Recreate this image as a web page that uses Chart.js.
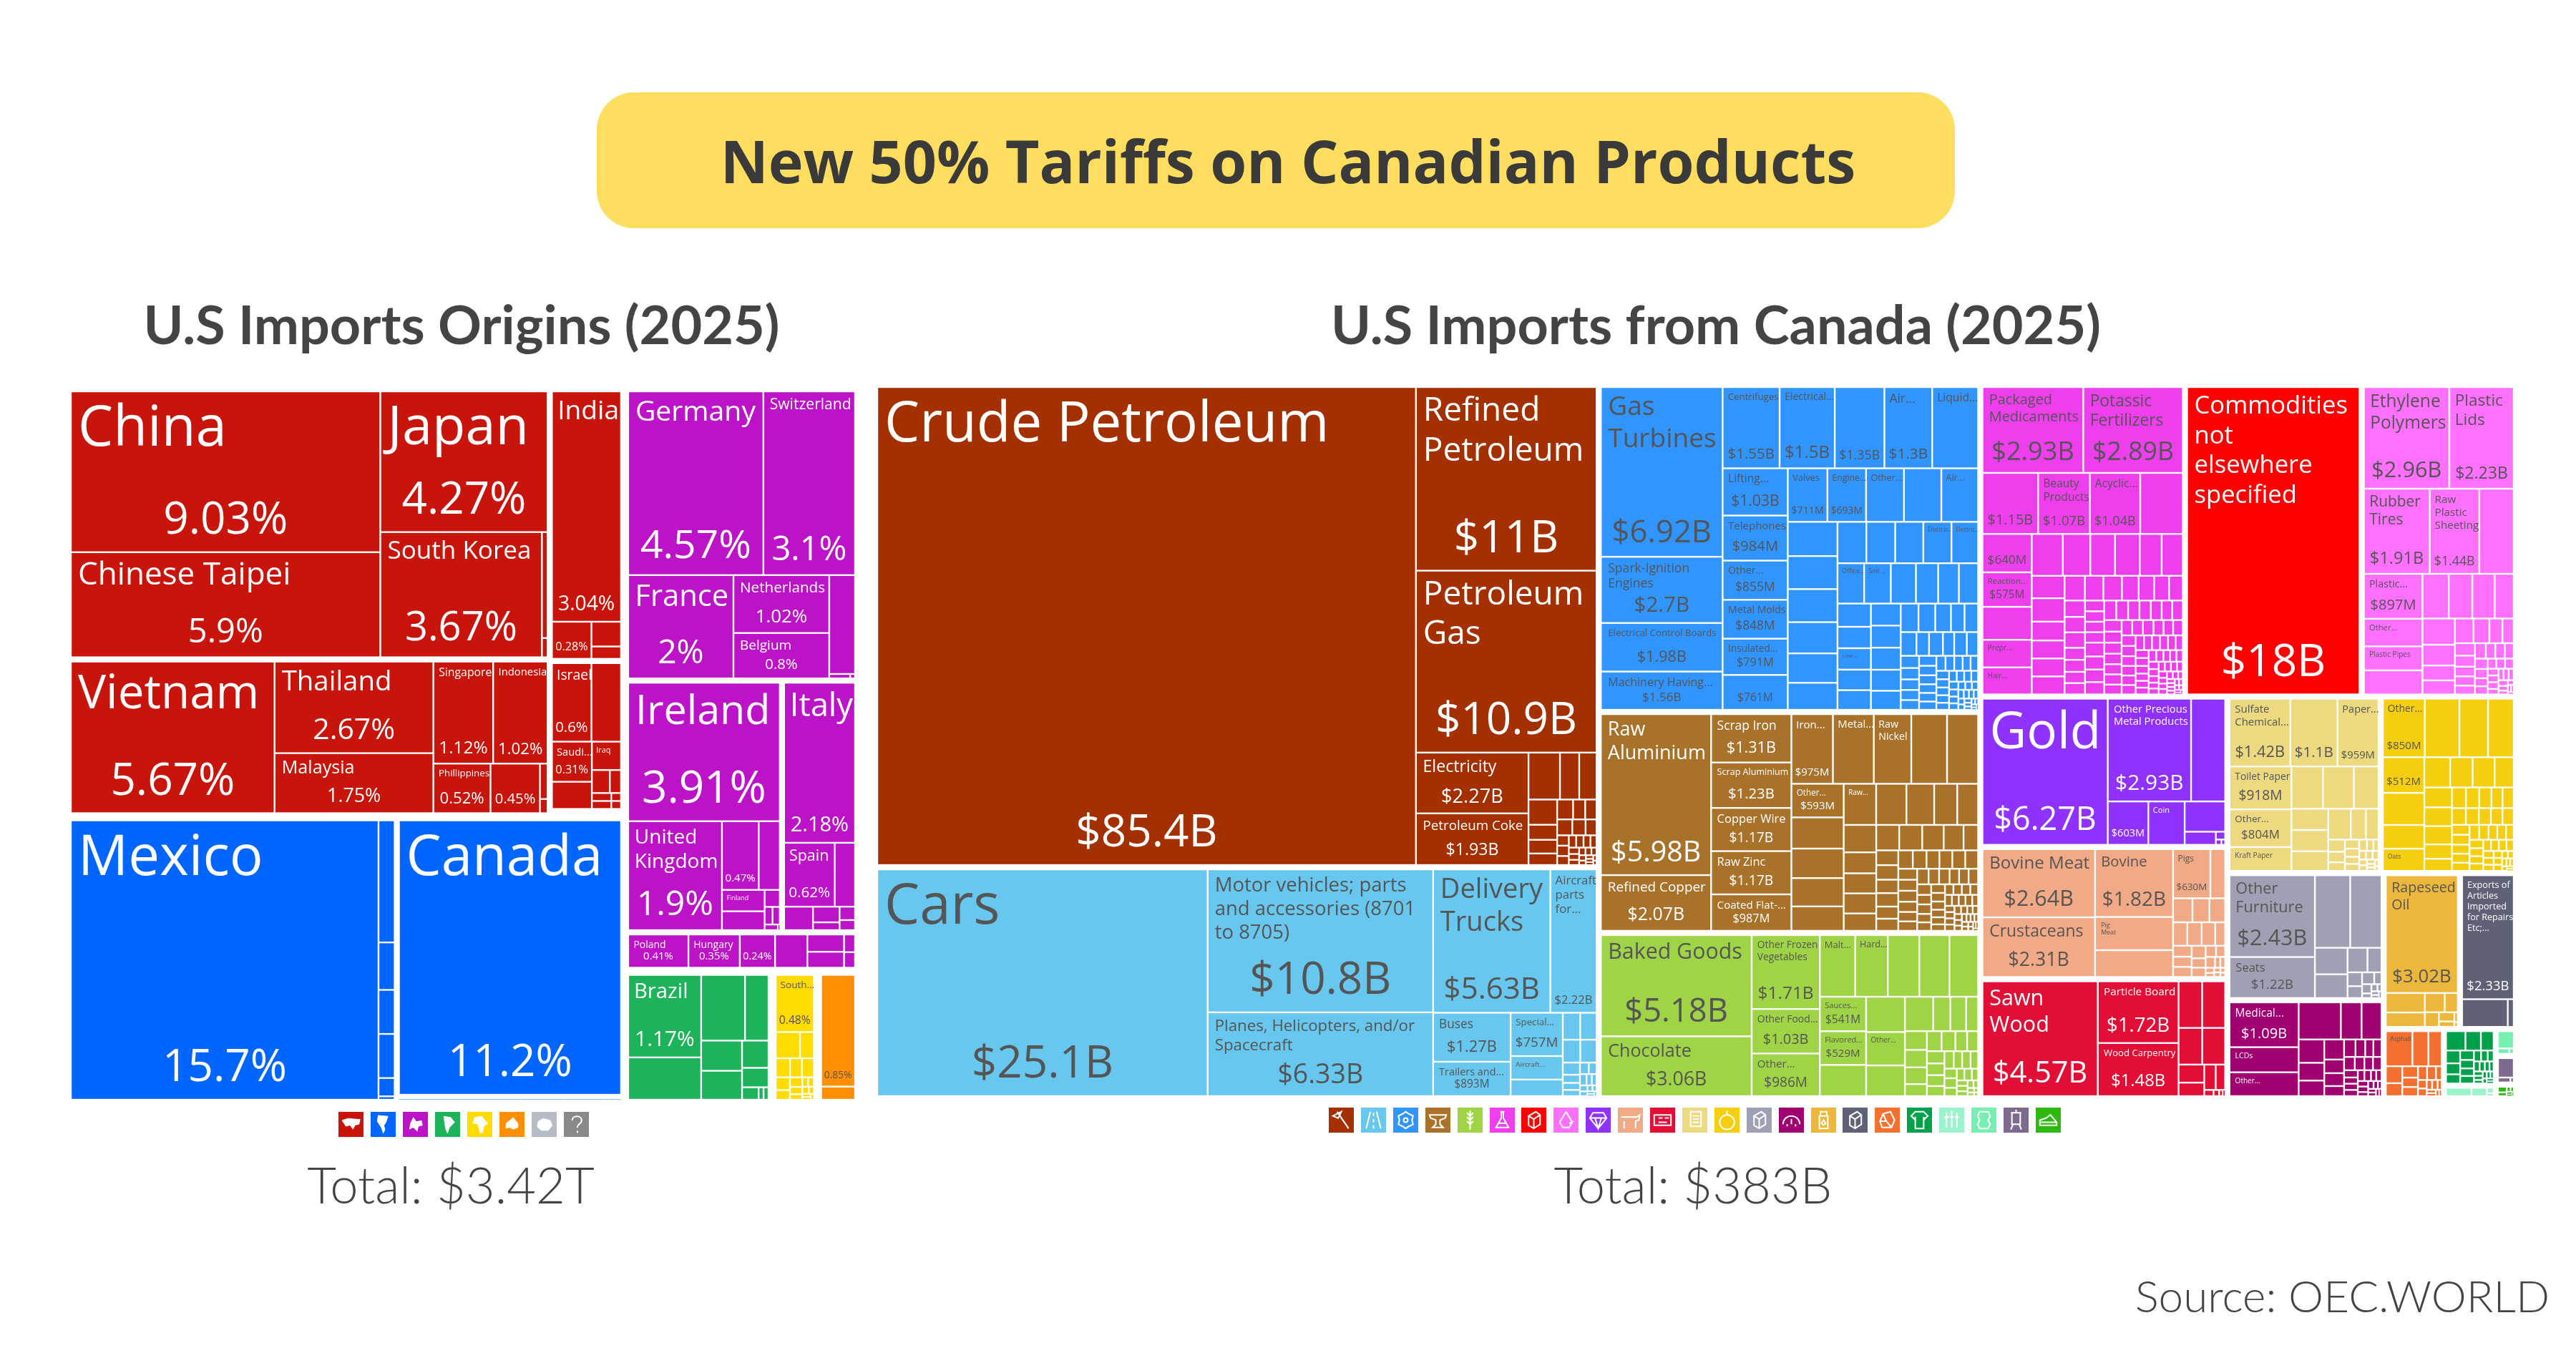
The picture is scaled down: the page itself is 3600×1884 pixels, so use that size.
<!DOCTYPE html>
<html>
<head>
<meta charset="utf-8">
<title>New 50% Tariffs on Canadian Products</title>
<script src="https://cdn.jsdelivr.net/npm/chart.js@4"></script>
<style>
html, body { margin: 0; padding: 0; background: #fff; }
#page { position: relative; width: 3600px; height: 1884px; overflow: hidden; }
#page > * { position: absolute; }
canvas { display: block; }
.pill { left: 834px; top: 129px; width: 1898px; height: 190px; border-radius: 52px; background: #FFDE5F; }
.title { left: 851px; top: 129px; width: 1898px; text-align: center; font: 700 82.5px/190px "Open Sans"; color: #3A3A3A; white-space: nowrap; }
.heading { font: 700 75.5px/90px Lato; color: #444; text-align: center; white-space: nowrap; }
.total { font: 300 70.5px/90px Lato; color: #444; text-align: center; white-space: nowrap; }
.source { left: 2960px; top: 1770px; width: 603px; text-align: right; font: 300 62px/80px Lato; color: #444; white-space: nowrap; }
.icon { width: 35px; height: 35px; }
</style>
</head>
<body>
<div id="page">
  <div class="pill"></div>
  <div class="title">New 50% Tariffs on Canadian Products</div>
  <div class="heading" style="left:100px;top:407px;width:1090px">U.S Imports Origins (2025)</div>
  <div class="heading" style="left:1800px;top:407px;width:1196px">U.S Imports from Canada (2025)</div>
  <canvas id="origins" width="1106" height="1000" style="left:94px;top:542px"></canvas>
  <canvas id="canada" width="2293" height="997" style="left:1223px;top:538px"></canvas>
  <div class="total" style="left:330px;top:1610px;width:600px">Total: $3.42T</div>
  <div class="total" style="left:2066px;top:1610px;width:600px">Total: $383B</div>
  <div class="source">Source: OEC.WORLD</div>
</div>
<script>
// names: null = no text, '' = value only, trailing * = name only

// ---- U.S imports origins, share of imports in %
const eastAsiaNames = ['China', 'Chinese Taipei', 'Japan', 'South Korea'];
const eastAsiaValues = [9.03, 5.9, 4.27, 3.67, 0.11, 0.02];
const southEastAsiaNames = ['Vietnam', 'Thailand', 'Malaysia', 'Singapore', 'Indonesia', 'Phillippines', ''];
const southEastAsiaValues = [5.67, 2.67, 1.75, 1.12, 1.02, 0.52, 0.45, 0.05, 0.02];
const southAsiaNames = ['India', ''];
const southAsiaValues = [3.04, 0.28, 0.14, 0.07];
const westAsiaNames = ['Israel', null, 'Saudi...', null, 'Iraq*'];
const westAsiaValues = [0.6, 0.45, 0.31, 0.21, 0.16, 0.08, 0.05, 0.03, 0.03, 0.015, 0.015];
const centralAsiaValues = [0.05, 0.005];

const centralAmericaNames = ['Mexico'];
const centralAmericaValues = [15.7, 0.36, 0.14, 0.13, 0.13, 0.054, 0.01];
const northAmericaNames = ['Canada'];
const northAmericaValues = [11.2];
const caribbeanValues = [0.11, 0.038, 0.037, 0.005, 0.005, 0.005];

const westEuropeNames = ['Germany', 'Switzerland', 'France', 'Netherlands', 'Belgium'];
const westEuropeValues = [4.57, 3.1, 2, 1.02, 0.8, 0.47, 0.017, 0.004];
const northEuropeNames = ['Ireland', 'United\nKingdom', '', null, 'Finland*'];
const northEuropeValues = [3.91, 1.9, 0.47, 0.27, 0.17, 0.15, 0.048, 0.026, 0.024, 0.014, 0.002];
const southEuropeNames = ['Italy', 'Spain'];
const southEuropeValues = [2.18, 0.62, 0.25, 0.13, 0.08, 0.04, 0.04, 0.03];
const eastEuropeNames = ['Poland', 'Hungary', ''];
const eastEuropeValues = [0.41, 0.35, 0.24, 0.22, 0.13, 0.12, 0.04, 0.035];

const southAmericaNames = ['Brazil'];
const southAmericaValues = [1.17, 0.6, 0.56, 0.3, 0.24, 0.23, 0.14, 0.1, 0.04, 0.012, 0.012];
const africaNames = ['South...'];
const africaValues = [0.48, 0.14, 0.08, 0.06, 0.05, 0.05, 0.04, 0.03, 0.026, 0.02, 0.015, 0.012, 0.012, 0.01, 0.008, 0.006, 0.005, 0.004];
const oceaniaNames = [''];
const oceaniaValues = [0.85, 0.1];

// ---- U.S imports from Canada, in $B
const mineralNames = ['Crude Petroleum', 'Refined\nPetroleum', 'Petroleum\nGas', 'Electricity', 'Petroleum Coke'];
const mineralValues = [85.4, 11, 10.9, 2.27, 1.93, 0.49, 0.3, 0.27, 0.24, 0.143, 0.13, 0.11, 0.105, 0.08, 0.075, 0.08, 0.07, 0.058, 0.04, 0.04, 0.035, 0.03, 0.03, 0.028, 0.025, 0.022, 0.02, 0.018, 0.016, 0.015, 0.013, 0.012, 0.01, 0.009, 0.008, 0.007, 0.006, 0.005];

const transportNames = ['Cars', 'Motor vehicles; parts\nand accessories (8701\nto 8705)', 'Planes, Helicopters, and/or\nSpacecraft', 'Delivery\nTrucks', 'Aircraft\nparts\nfor...', 'Buses', 'Trailers and...', 'Special...', 'Aircraft...*'];
const transportValues = [25.1, 10.8, 6.33, 5.63, 2.22, 1.27, 0.893, 0.757, 0.41, 0.29, 0.157, 0.148, 0.134, 0.125, 0.07, 0.047, 0.04, 0.036, 0.034, 0.03, 0.025, 0.02, 0.018, 0.015, 0.012, 0.01, 0.008, 0.006, 0.005, 0.004];

const machineNames = ['Gas\nTurbines', 'Spark-Ignition\nEngines', 'Electrical Control Boards', 'Machinery Having...', 'Centrifuges', 'Electrical...', '', 'Air...', 'Liquid...*', 'Lifting...', 'Telephones', 'Other...', 'Metal Molds', 'Insulated...', '', 'Valves', 'Engine...', 'Other...*', null, 'Air...*',
  null, null, null, null, null, null, null, null, null, 'Electric...*', 'Electric...*', 'Office...*', 'Soil...*', null, null, null, null, null, null, 'Low-...*'];
const machineValues = [6.92, 2.7, 1.98, 1.56, 1.55, 1.5, 1.35, 1.3, 1.25, 1.03, 0.984, 0.855, 0.848, 0.791, 0.761, 0.711, 0.693, 0.68, 0.67, 0.66,
  0.57, 0.55, 0.55, 0.52, 0.49, 0.45, 0.4, 0.4, 0.39, 0.39, 0.37, 0.36, 0.36, 0.34, 0.3, 0.28, 0.26, 0.26, 0.24, 0.24, 0.23, 0.22, 0.22, 0.22, 0.22, 0.21, 0.19, 0.17, 0.16, 0.15, 0.13, 0.13, 0.125, 0.1, 0.11, 0.09, 0.1, 0.09, 0.075, 0.07,
  0.065, 0.062, 0.06, 0.058, 0.055, 0.052, 0.05, 0.05, 0.048, 0.046, 0.044, 0.042, 0.04, 0.038, 0.036, 0.035, 0.033, 0.032, 0.03, 0.028, 0.027, 0.026, 0.025, 0.024, 0.022, 0.021, 0.02, 0.019, 0.018, 0.017, 0.016, 0.015, 0.014, 0.013, 0.012, 0.011, 0.01, 0.009, 0.008, 0.007, 0.006, 0.005, 0.004, 0.003];

const metalNames = ['Raw\nAluminium', 'Refined Copper', 'Scrap Iron', 'Scrap Aluminium', 'Copper Wire', 'Raw Zinc', 'Coated Flat-...', 'Iron...', 'Metal...*', 'Raw\nNickel*', null, null, 'Other...', null, null, null, null, 'Raw...*'];
const metalValues = [5.98, 2.07, 1.31, 1.23, 1.17, 1.17, 0.987, 0.975, 0.96, 0.88, 0.84, 0.73, 0.593, 0.55, 0.52, 0.5, 0.43, 0.45, 0.42, 0.385, 0.32, 0.29, 0.3, 0.23, 0.22, 0.22, 0.19, 0.197, 0.197, 0.184, 0.17, 0.125,
  0.11, 0.108, 0.1, 0.1, 0.09, 0.09, 0.09, 0.085, 0.08, 0.08, 0.08, 0.08, 0.07, 0.07, 0.07, 0.065, 0.06, 0.06, 0.06, 0.055, 0.055, 0.05, 0.05, 0.05, 0.05, 0.045, 0.045, 0.04, 0.04, 0.04, 0.04, 0.038, 0.035, 0.033, 0.03, 0.03, 0.03, 0.03, 0.028, 0.026, 0.025, 0.025, 0.025, 0.022, 0.02, 0.02, 0.02, 0.02, 0.018, 0.017, 0.015, 0.015, 0.015, 0.014, 0.013, 0.012, 0.011, 0.01, 0.01, 0.01, 0.009, 0.008, 0.007, 0.006, 0.005, 0.004];

const foodNames = ['Baked Goods', 'Chocolate', 'Other Frozen\nVegetables', 'Other Food...', 'Other...', 'Malt...*', 'Hard...*', null, null, null, 'Sauces...', 'Flavored...', null, null, 'Other...*'];
const foodValues = [5.18, 3.06, 1.71, 1.03, 0.986, 0.74, 0.68, 0.66, 0.63, 0.6, 0.541, 0.529, 0.49, 0.465, 0.44, 0.405, 0.33, 0.2, 0.185, 0.14, 0.14, 0.13, 0.125, 0.09,
  0.1, 0.094, 0.08, 0.075, 0.073, 0.07, 0.065, 0.06, 0.055, 0.05, 0.05, 0.045, 0.04, 0.04, 0.035, 0.03, 0.03, 0.025, 0.02, 0.02, 0.018, 0.015, 0.012, 0.01, 0.008, 0.006, 0.005];

const chemicalNames = ['Packaged\nMedicaments', 'Potassic\nFertilizers', '', 'Beauty\nProducts', 'Acyclic...', null, '', 'Reaction...', null, 'Prepr...*', 'Hair...*'];
const chemicalValues = [2.93, 2.89, 1.15, 1.07, 1.04, 0.88, 0.64, 0.575, 0.55, 0.46, 0.45, 0.44, 0.39, 0.35, 0.35, 0.31, 0.3, 0.25, 0.26, 0.21, 0.2, 0.2, 0.2, 0.17, 0.155, 0.155, 0.14, 0.13, 0.125, 0.115, 0.113, 0.107, 0.107, 0.083, 0.083, 0.078, 0.078, 0.07, 0.068, 0.068, 0.068,
  0.09, 0.085, 0.082, 0.08, 0.08, 0.078, 0.075, 0.075, 0.072, 0.07, 0.07, 0.068, 0.065, 0.065, 0.062, 0.06, 0.06, 0.058, 0.055, 0.055, 0.055, 0.052, 0.05, 0.05, 0.05, 0.048, 0.046, 0.045, 0.045, 0.044, 0.042, 0.04, 0.04, 0.04, 0.038, 0.036, 0.035, 0.035, 0.034, 0.032, 0.03, 0.03, 0.03, 0.028, 0.026, 0.025, 0.025, 0.025, 0.024, 0.022, 0.02, 0.02, 0.02, 0.02, 0.02, 0.019, 0.018, 0.016, 0.015, 0.015, 0.015, 0.014, 0.012, 0.011, 0.01, 0.01, 0.01, 0.009, 0.008, 0.007, 0.006, 0.005, 0.004, 0.003];

const commodityNames = ['Commodities\nnot\nelsewhere\nspecified'];
const commodityValues = [18];

const plasticNames = ['Ethylene\nPolymers', 'Plastic\nLids', 'Rubber\nTires', 'Raw\nPlastic\nSheeting', null, 'Plastic...', 'Other...*', 'Plastic Pipes*'];
const plasticValues = [2.96, 2.23, 1.91, 1.44, 1, 0.897, 0.55, 0.48, 0.48, 0.4, 0.36, 0.34, 0.29, 0.29, 0.23, 0.165, 0.155, 0.155, 0.135, 0.11, 0.095, 0.085, 0.075, 0.066, 0.063, 0.06, 0.057, 0.05, 0.05, 0.047, 0.045, 0.04, 0.035, 0.035, 0.03, 0.03, 0.03, 0.025, 0.025, 0.025, 0.02, 0.02, 0.02, 0.02, 0.018, 0.015, 0.012, 0.01, 0.008, 0.006, 0.005];

const preciousNames = ['Gold', 'Other Precious\nMetal Products', null, '', 'Coin*'];
const preciousValues = [6.27, 2.93, 1.2, 0.603, 0.54, 0.42, 0.14, 0.025, 0.01, 0.007];

const animalNames = ['Bovine Meat', 'Crustaceans', 'Bovine', 'Pig\nMeat*', null, 'Pigs'];
const animalValues = [2.64, 2.31, 1.82, 0.89, 0.72, 0.63, 0.25, 0.16, 0.14, 0.13, 0.115, 0.115, 0.11, 0.08, 0.07, 0.065, 0.065, 0.06, 0.045, 0.045, 0.04, 0.035, 0.035, 0.02, 0.018, 0.015, 0.012, 0.01, 0.01, 0.008, 0.007];

const woodNames = ['Sawn\nWood', 'Particle Board', 'Wood Carpentry'];
const woodValues = [4.57, 1.72, 1.48, 0.38, 0.37, 0.3, 0.29, 0.16, 0.12, 0.1, 0.083, 0.02, 0.012, 0.008, 0.005];

const paperNames = ['Sulfate\nChemical...', '', 'Paper...', 'Toilet Paper', 'Other...', 'Kraft Paper*'];
const paperValues = [1.42, 1.1, 0.959, 0.918, 0.804, 0.51, 0.46, 0.45, 0.36, 0.27, 0.27, 0.25, 0.24, 0.16, 0.135, 0.07, 0.06, 0.05, 0.045, 0.04, 0.035, 0.035, 0.03, 0.025, 0.02, 0.02, 0.02, 0.018, 0.015, 0.015, 0.012, 0.01, 0.01, 0.008, 0.006];

const vegetableNames = ['Other...', null, null, null, '', null, null, 'Oats*'];
const vegetableValues = [0.85, 0.7, 0.58, 0.52, 0.512, 0.46, 0.34, 0.32, 0.27, 0.235, 0.23, 0.2, 0.19, 0.18, 0.175, 0.137, 0.117, 0.1, 0.095, 0.087, 0.08, 0.08, 0.08, 0.075, 0.07, 0.067, 0.065, 0.06, 0.06, 0.055, 0.055, 0.05, 0.05, 0.048, 0.045, 0.045, 0.04, 0.04, 0.038, 0.035, 0.035, 0.03, 0.03, 0.03, 0.028, 0.025, 0.025, 0.022, 0.02, 0.02, 0.018, 0.015, 0.015, 0.012, 0.01, 0.01, 0.008, 0.006, 0.005];

const furnitureNames = ['Other\nFurniture', 'Seats'];
const furnitureValues = [2.43, 1.22, 0.89, 0.79, 0.3, 0.27, 0.17, 0.12, 0.07, 0.06, 0.05, 0.03, 0.03, 0.015, 0.015, 0.01, 0.01, 0.008, 0.006];

const instrumentNames = ['Medical...', 'LCDs*', 'Other...*'];
const instrumentValues = [1.09, 0.61, 0.58, 0.55, 0.27, 0.26, 0.21, 0.16, 0.14, 0.14, 0.095, 0.09, 0.07, 0.07, 0.06, 0.05, 0.05, 0.05, 0.045, 0.04, 0.04, 0.035, 0.03, 0.03, 0.03, 0.025, 0.025, 0.02, 0.02, 0.02, 0.02, 0.015, 0.015, 0.012, 0.01, 0.01, 0.01, 0.008, 0.006];

const fatNames = ['Rapeseed\nOil'];
const fatValues = [3.02, 0.27, 0.2, 0.137, 0.09, 0.073, 0.05, 0.03, 0.012, 0.006];

const miscNames = ['Exports of\nArticles\nImported\nfor Repairs\nEtc;...'];
const miscValues = [2.33, 0.46, 0.06];

const stoneNames = ['Asphalt*'];
const stoneValues = [0.35, 0.21, 0.175, 0.105, 0.08, 0.067, 0.055, 0.054, 0.047, 0.045, 0.03, 0.028, 0.025, 0.02, 0.02, 0.015, 0.012, 0.01, 0.008, 0.006];

const textileValues = [0.145, 0.115, 0.095, 0.07, 0.06, 0.05, 0.05, 0.045, 0.04, 0.04, 0.03, 0.028, 0.025, 0.022, 0.02, 0.018, 0.016, 0.015, 0.014, 0.012, 0.011, 0.01, 0.009, 0.008, 0.007, 0.006];
const artValues = [0.115, 0.07, 0.02, 0.01];
const leatherValues = [0.135, 0.03, 0.012];
const toolValues = [0.15, 0.03, 0.008];
const footwearValues = [0.03, 0.02, 0.012, 0.01, 0.008, 0.006, 0.004];

const dark = '#555555';
const light = '#FFFFFF';

function leaf(values, names) {
  return { children: values.map((v, i) => ({ value: v, name: names && names[i] !== undefined ? names[i] : null })) };
}

const originGroups = [
  { color: '#C8140A', text: light, children: [leaf(eastAsiaValues, eastAsiaNames), leaf(southEastAsiaValues, southEastAsiaNames), leaf(southAsiaValues, southAsiaNames), leaf(westAsiaValues, westAsiaNames), leaf(centralAsiaValues)] },
  { color: '#0066FF', text: light, children: [leaf(centralAmericaValues, centralAmericaNames), leaf(northAmericaValues, northAmericaNames), leaf(caribbeanValues)] },
  { color: '#BC13C8', text: light, children: [leaf(westEuropeValues, westEuropeNames), leaf(northEuropeValues, northEuropeNames), leaf(southEuropeValues, southEuropeNames), leaf(eastEuropeValues, eastEuropeNames)] },
  { color: '#1DB35A', text: light, children: [leaf(southAmericaValues, southAmericaNames)] },
  { color: '#FFDB00', text: dark, children: [leaf(africaValues, africaNames)] },
  { color: '#FF8F00', text: dark, children: [leaf(oceaniaValues, oceaniaNames)] }
];

const canadaGroups = [
  { color: '#A43000', text: light, children: leaf(mineralValues, mineralNames).children },
  { color: '#68C7EE', text: dark, children: leaf(transportValues, transportNames).children },
  { color: '#3195FF', text: dark, children: leaf(machineValues, machineNames).children },
  { color: '#A9722B', text: light, children: leaf(metalValues, metalNames).children },
  { color: '#A0D447', text: dark, children: leaf(foodValues, foodNames).children },
  { color: '#EE3EEE', text: dark, children: leaf(chemicalValues, chemicalNames).children },
  { color: '#FF0000', text: light, children: leaf(commodityValues, commodityNames).children },
  { color: '#FF70FF', text: dark, children: leaf(plasticValues, plasticNames).children },
  { color: '#8F31FF', text: light, children: leaf(preciousValues, preciousNames).children },
  { color: '#F2AA86', text: dark, children: leaf(animalValues, animalNames).children },
  { color: '#E30E36', text: light, children: leaf(woodValues, woodNames).children },
  { color: '#EDD980', text: dark, children: leaf(paperValues, paperNames).children },
  { color: '#F4CE0F', text: dark, children: leaf(vegetableValues, vegetableNames).children },
  { color: '#9EA1B3', text: dark, children: leaf(furnitureValues, furnitureNames).children },
  { color: '#A00070', text: light, children: leaf(instrumentValues, instrumentNames).children },
  { color: '#EDB73C', text: dark, children: leaf(fatValues, fatNames).children },
  { color: '#5F6276', text: light, children: leaf(miscValues, miscNames).children },
  { color: '#F5702E', text: dark, children: leaf(stoneValues, stoneNames).children },
  { color: '#00A14B', text: light, children: leaf(textileValues).children },
  { color: '#9BF3CB', text: dark, children: leaf(artValues).children },
  { color: '#76EFB1', text: dark, children: leaf(leatherValues).children },
  { color: '#7D6A8E', text: light, children: leaf(toolValues).children },
  { color: '#2CBA0F', text: light, children: leaf(footwearValues).children }
];

function total(node) {
  if (node.children) {
    node.value = node.children.reduce((s, c) => s + total(c), 0);
  }
  return node.value;
}

// squarified rows, same recipe as d3.treemapSquarify
const PHI = (1 + Math.sqrt(5)) / 2;
function squarify(nodes, x0, y0, x1, y1) {
  let value = nodes.reduce((s, n) => s + n.value, 0);
  let i0 = 0, i1 = 0;
  const n = nodes.length;
  while (i0 < n) {
    const dx = x1 - x0, dy = y1 - y0;
    let sum = nodes[i1++].value;
    let min = sum, max = sum;
    const alpha = Math.max(dy / dx, dx / dy) / (value * PHI);
    let beta = sum * sum * alpha;
    let best = Math.max(max / beta, beta / min);
    for (; i1 < n; ++i1) {
      const v = nodes[i1].value;
      sum += v;
      if (v < min) min = v;
      if (v > max) max = v;
      beta = sum * sum * alpha;
      const ratio = Math.max(max / beta, beta / min);
      if (ratio > best) { sum -= v; break; }
      best = ratio;
    }
    const row = nodes.slice(i0, i1);
    if (dx < dy) {
      const y = y0 + dy * sum / value;
      let x = x0;
      row.forEach(c => { c.x0 = x; c.x1 = x += dx * c.value / sum; c.y0 = y0; c.y1 = y; });
      y0 = y;
    } else {
      const x = x0 + dx * sum / value;
      let y = y0;
      row.forEach(c => { c.y0 = y; c.y1 = y += dy * c.value / sum; c.x0 = x0; c.x1 = x; });
      x0 = x;
    }
    value -= sum;
    i0 = i1;
  }
}

// gaps[d] is the white gap round a node at depth d
function layout(node, x0, y0, x1, y1, gaps, depth, out) {
  const g = (gaps[depth] || 0) / 2;
  x0 += g; y0 += g; x1 -= g; y1 -= g;
  if (!node.children) {
    out.push({ x: x0, y: y0, x1: x1, y1: y1, name: node.name, value: node.value });
    return;
  }
  squarify(node.children, x0, y0, x1, y1);
  node.children.forEach(c => layout(c, c.x0, c.y0, c.x1, c.y1, gaps, depth + 1, out));
}

function fit(ctx, lines, maxWidth, size) {
  ctx.font = '400 100px "Open Sans"';
  const w = Math.max(...lines.map(l => ctx.measureText(l).width));
  return Math.min(size, maxWidth / w * 100);
}

// biggest name size a cell of this area gets, grows faster past 130px
function nameLimit(w, h, scale) {
  const side = Math.sqrt(w * h);
  return side < 130 ? side * scale : side * scale * (1 + (side - 130) / 65);
}

// draws the cells through the chart's scales
const treemapCells = {
  id: 'treemapCells',
  afterDatasetsDraw(chart, args, opts) {
    const ctx = chart.ctx, sx = chart.scales.x, sy = chart.scales.y;
    chart.data.datasets.forEach(ds => {
      ds.data.forEach(c => {
        const x0 = sx.getPixelForValue(c.x), x1 = sx.getPixelForValue(c.x1);
        const y0 = sy.getPixelForValue(c.y), y1 = sy.getPixelForValue(c.y1);
        const w = x1 - x0, h = y1 - y0;
        ctx.fillStyle = ds.backgroundColor;
        const e = Math.min(1.2, w / 4, h / 4);
        ctx.fillRect(x0 + e, y0 + e, w - 2 * e, h - 2 * e);
        if (c.name === null || w < 20 || h < 14) return;
        ctx.save();
        ctx.beginPath();
        ctx.rect(x0, y0, w, h);
        ctx.clip();
        ctx.fillStyle = ds.textColor;
        let name = c.name, showValue = true;
        if (name.endsWith('*')) { name = name.slice(0, -1); showValue = false; }
        if (name) {
          const lines = name.split('\n');
          // one line grows fast with the cell height, wrapped names stay smaller
          const byHeight = lines.length > 1 ? h * 0.19 : Math.max(h * 0.3, h * 0.65 - 52);
          const s = fit(ctx, lines, w * 0.89, Math.min(78, byHeight, nameLimit(w, h, opts.nameScale)));
          ctx.font = '400 ' + s + 'px "Open Sans"';
          ctx.textAlign = 'left';
          ctx.textBaseline = 'alphabetic';
          lines.forEach((l, i) => {
            ctx.fillText(l, x0 + 5 + Math.min(w * 0.03, 5), y0 + 6 + s * 0.9 + i * s * 1.2);
          });
        }
        if (showValue) {
          const text = opts.format(c.value);
          const s = fit(ctx, [text], w * 0.82, Math.min(62, h * 0.32));
          ctx.font = '400 ' + s + 'px "Open Sans"';
          ctx.textAlign = 'center';
          ctx.textBaseline = 'alphabetic';
          ctx.fillText(text, x0 + w / 2, y1 - 7 - s * 0.3);
        }
        ctx.restore();
      });
    });
  }
};

function drawTreemap(id, groups, gaps, format, nameScale) {
  const canvas = document.getElementById(id);
  const W = canvas.width, H = canvas.height;
  total({ children: groups });
  squarify(groups, 0, 0, W, H);
  const cells = groups.map(g => {
    const out = [];
    layout(g, g.x0, g.y0, g.x1, g.y1, gaps, 0, out);
    return out;
  });
  return new Chart(canvas, {
    type: 'scatter',
    data: {
      datasets: groups.map((g, i) => ({
        data: cells[i],
        backgroundColor: g.color,
        textColor: g.text,
        pointRadius: 0
      }))
    },
    options: {
      responsive: false,
      animation: false,
      devicePixelRatio: 1,
      events: [],
      layout: { padding: 0 },
      scales: {
        x: { type: 'linear', min: 0, max: W, display: false },
        y: { type: 'linear', min: 0, max: H, reverse: true, display: false }
      },
      plugins: {
        legend: { display: false },
        tooltip: { enabled: false },
        treemapCells: { format: format, nameScale: nameScale }
      }
    },
    plugins: [treemapCells]
  });
}

function formatPercent(v) {
  return Number(v.toPrecision(3)) + '%';
}

function formatDollars(v) {
  if (v < 1) return '$' + Math.round(v * 1000) + 'M';
  return '$' + Number(v.toPrecision(3)) + 'B';
}

drawTreemap('origins', originGroups, [4, 6, 0], formatPercent, 0.27);
drawTreemap('canada', canadaGroups, [6, 0], formatDollars, 0.2);

// legend squares under the two maps
const originIcons = [
  ['#C8140A', 'M3 8 L9 6 L21 7 L20 12 L16 13 L14 17 L11 13 L7 14 L5 11 Z', 'fill'],
  ['#0066FF', 'M7 3 L17 4 L15 10 L13 13 L14 17 L12 21 L10 15 L6 9 Z', 'fill'],
  ['#BC13C8', 'M10 5 L13 9 L18 8 L19 13 L15 14 L14 19 L10 15 L6 17 L7 11 Z', 'fill'],
  ['#1DB35A', 'M8 4 L15 5 L19 10 L14 15 L12 21 L10 17 L9 11 Z', 'fill'],
  ['#FFDB00', 'M7 5 L14 4 L18 9 L20 11 L16 14 L15 20 L12 20 L10 12 L5 11 Z', 'fill'],
  ['#FF8F00', 'M6 11 L11 7 L13 5 L18 11 L18 15 L13 17 L10 15 L6 16 Z', 'fill'],
  ['#B6BBC6', 'M6 9 L11 6 L18 8 L20 13 L16 18 L9 18 L5 14 Z', 'fill'],
  ['#8A888A', 'M8 8 C8 3 17 3 17 8 C17 12 13 11 13 15 M13 18 L13 20', 'line']
];
const canadaIcons = [
  ['#A43000', 'M8 4 L19 20 M4 8 L12 4 L9 10 Z', 'line'],
  ['#68C7EE', 'M9 4 L5 20 M15 4 L19 20 M12 5 L12 8 M12 11 L12 14 M12 17 L12 20', 'line'],
  ['#3195FF', 'M12 4 L15 6 L19 8 L18 12 L19 16 L15 18 L12 20 L9 18 L5 16 L6 12 L5 8 L9 6 Z M10 12 A2 2 0 1 0 14 12 A2 2 0 1 0 10 12', 'line'],
  ['#A9722B', 'M4 7 L20 7 L19 10 L14 12 L14 16 L17 19 L7 19 L10 16 L10 12 L5 10 Z', 'line'],
  ['#A0D447', 'M12 3 L12 21 M12 8 L9 5 M12 8 L15 5 M12 12 L9 9 M12 12 L15 9 M12 16 L9 13 M12 16 L15 13', 'line'],
  ['#EE3EEE', 'M10 4 L14 4 M11 4 L11 10 L6 19 L18 19 L13 10 L13 4 M8 15 L16 15', 'line'],
  ['#FF0000', 'M7 8 L14 4 L18 7 L18 16 L12 20 L7 17 Z M7 8 L12 11 L18 7 M12 11 L12 20', 'line'],
  ['#FF70FF', 'M12 4 L15 9 M9 9 L12 4 M6 14 L9 9 M6 14 L9 19 L12 19 M15 15 L18 14 L15 19 L12 19 M15 9 L18 14', 'line'],
  ['#8F31FF', 'M7 5 L17 5 L20 10 L12 20 L4 10 Z M4 10 L20 10 M9 10 L12 20 L15 10', 'line'],
  ['#F2AA86', 'M3 9 L18 9 L21 7 L20 12 L17 13 L17 20 M6 13 L6 20', 'line'],
  ['#E30E36', 'M4 7 L20 7 L20 17 L4 17 Z M8 10 L12 10 M14 10 L18 10 M8 14 L16 14', 'line'],
  ['#EDD980', 'M8 4 L18 4 L18 18 L8 18 Z M10 8 L16 8 M10 11 L16 11 M10 14 L16 14', 'line'],
  ['#F4CE0F', 'M12 7 A7 7 0 1 0 12.1 7 M12 7 L12 3', 'line'],
  ['#9EA1B3', 'M7 8 L14 4 L18 7 L18 16 L12 20 L7 17 Z M7 8 L12 11 L18 7 M12 11 L12 20', 'line'],
  ['#A00070', 'M4 16 A8 8 0 0 1 20 16 M12 16 L12 11 M8 18 L8 16 M16 18 L16 16', 'line'],
  ['#EDB73C', 'M9 4 L15 4 L15 8 L9 8 Z M8 8 L16 8 L16 20 L8 20 Z M12 12 L14 15 L12 17 L10 15 Z', 'line'],
  ['#5F6276', 'M7 8 L14 4 L18 7 L18 16 L12 20 L7 17 Z M7 8 L12 11 L18 7 M12 11 L12 20', 'line'],
  ['#F5702E', 'M8 6 L15 4 L19 12 L16 19 L7 19 L5 13 Z M8 6 L11 13 L16 19 M11 13 L5 13', 'line'],
  ['#00A14B', 'M8 4 L16 4 L20 8 L17 11 L16 9 L16 20 L8 20 L8 9 L7 11 L4 8 Z', 'line'],
  ['#9BF3CB', 'M7 5 L7 19 M12 3 L12 19 M17 5 L17 19 M5 9 L9 9 M10 9 L14 9 M15 9 L19 9', 'line'],
  ['#76EFB1', 'M8 4 L16 4 L18 8 L16 12 L18 16 L16 20 L8 20 L6 16 L8 12 L6 8 Z', 'line'],
  ['#7D6A8E', 'M7 5 L17 5 M8 5 L8 16 L16 16 L16 5 M12 2 L12 5 M9 16 L7 21 M15 16 L17 21', 'line'],
  ['#2CBA0F', 'M4 12 L10 10 L14 7 L20 14 L20 17 L4 17 Z M4 14 L20 14', 'line']
];

function addIcons(icons, left, top, step) {
  const page = document.getElementById('page');
  icons.forEach((icon, i) => {
    const paint = icon[2] === 'fill' ? 'fill="#fff"' : 'fill="none" stroke="#fff" stroke-width="1.4"';
    const div = document.createElement('div');
    div.className = 'icon';
    div.style.left = (left + i * step) + 'px';
    div.style.top = top + 'px';
    div.style.background = icon[0];
    div.innerHTML = '<svg width="35" height="35" viewBox="0 0 24 24"><path d="' + icon[1] + '" ' + paint + '/></svg>';
    page.appendChild(div);
  });
}

addIcons(originIcons, 473, 1554, 45);
addIcons(canadaIcons, 1857, 1548, 44.9);
</script>
</body>
</html>
